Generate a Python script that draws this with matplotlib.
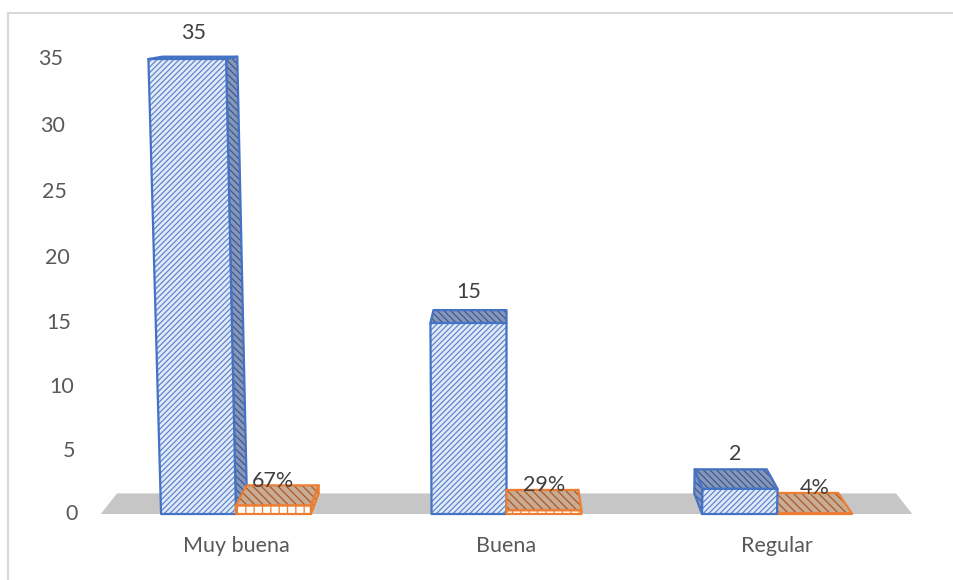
import matplotlib
matplotlib.use('Agg')
import matplotlib.pyplot as plt
from matplotlib.patches import Polygon
from matplotlib.lines import Line2D
import numpy as np

# datos
categorias = ['Muy buena', 'Buena', 'Regular']
frecuencia = [35, 15, 2]
porcentaje = [0.67, 0.29, 0.04]
etiquetas_pct = ['67%', '29%', '4%']
ticks_y = [0, 5, 10, 15, 20, 25, 30, 35]

# colores
AZUL = '#4472c4'
AZUL_CLARO = '#e2eaf7'
AZUL_OSCURO = '#8797b5'
AZUL_RAYA = '#3a5a9c'
AZUL_LINEA = '#5f86cc'
NARANJA = '#ed7d31'
NARANJA_TOP = '#c8ab93'
NARANJA_RAYA = '#a85a28'
PISO = '#c6c6c6'
TEXTO = '#595959'
TEXTO_DATOS = '#404040'

# perspectiva (unidades de categoria / valor)
XC = 1.0        # punto de fuga horizontal
VY = 41.0       # altura del punto de fuga de profundidad
PROF = 0.96     # escala de la cara trasera
TAPER = 0.00101
ANCHO = 0.277

plt.rcParams['font.family'] = ['Lato', 'DejaVu Sans']
plt.rcParams['hatch.linewidth'] = 0.9


def proyectar(x, v, z):
    k = 1.0 / (1.0 - TAPER * v)
    fx = XC + (x - XC) * k
    fy = v * k
    s = 1.0 - (1.0 - PROF) * z
    return XC + (fx - XC) * s, VY + (fy - VY) * s


def cara(ax, pts, fc, hc, hatch, ec, zo):
    xy = [proyectar(*p) for p in pts]
    ax.add_patch(Polygon(xy, closed=True, facecolor=fc, edgecolor=hc, hatch=hatch,
                         lw=0, zorder=zo, clip_on=False))
    ax.add_patch(Polygon(xy, closed=True, fill=False, edgecolor=ec, lw=1.6,
                         zorder=zo, clip_on=False, joinstyle='round'))


def barra(ax, x0, x1, v, frente, lado, zo):
    if x1 < XC:
        cara(ax, [(x1, 0, 0), (x1, v, 0), (x1, v, 1), (x1, 0, 1)], *lado, zo)
    if x0 > XC:
        cara(ax, [(x0, 0, 0), (x0, v, 0), (x0, v, 1), (x0, 0, 1)], *lado, zo)
    cara(ax, [(x0, v, 0), (x1, v, 0), (x1, v, 1), (x0, v, 1)], *lado, zo)
    cara(ax, [(x0, 0, 0), (x1, 0, 0), (x1, v, 0), (x0, v, 0)], *frente, zo)


fig = plt.figure(figsize=(9.54, 5.8), dpi=100)
ax = fig.add_axes([100.75 / 954, 66 / 580, 811.5 / 954, 501.6 / 580])
ax.set_xlim(-0.5, 2.5)
ax.set_ylim(0, 40)
ax.axis('off')

# marco del grafico
fig.add_artist(Line2D([8 / 954, 1], [1 - 13 / 580] * 2, color='#d9d9d9', lw=1.5))
fig.add_artist(Line2D([8 / 954] * 2, [0, 1 - 13 / 580], color='#d9d9d9', lw=1.5))

# piso
n = len(categorias)
izq, der = -0.5, n - 0.5
piso = [proyectar(*p) for p in [(izq, 0, 0), (der, 0, 0), (der, 0, 1), (izq, 0, 1)]]
ax.add_patch(Polygon(piso, closed=True, facecolor=PISO, edgecolor='none', zorder=1, clip_on=False))

frente_azul = (AZUL_CLARO, AZUL_LINEA, '//////', AZUL)
lado_azul = (AZUL_OSCURO, AZUL_RAYA, '\\\\\\\\\\', AZUL)
frente_nar = ('white', NARANJA, '||', NARANJA)
lado_nar = (NARANJA_TOP, NARANJA_RAYA, '\\\\\\\\', NARANJA)

barras = []
for i in range(n):
    barras.append((i - ANCHO, i, frecuencia[i], frente_azul, lado_azul))
    barras.append((i, i + ANCHO, porcentaje[i], frente_nar, lado_nar))
# de lo mas lejano al centro hacia el centro
barras.sort(key=lambda b: -abs((b[0] + b[1]) / 2 - XC))
for zo, b in enumerate(barras):
    barra(ax, *b, zo + 2)

# etiquetas de datos
fs = 15.5
for i in range(n):
    x, y = proyectar(i - ANCHO / 2, frecuencia[i], 0.5)
    ax.annotate(str(frecuencia[i]), (x, y), xytext=(0, 18), textcoords='offset points',
                ha='center', va='center', fontsize=fs, color=TEXTO_DATOS,
                annotation_clip=False, zorder=50)
    x, y = proyectar(i + ANCHO / 2, porcentaje[i], 0)
    ax.annotate(etiquetas_pct[i], (x, y), xytext=(0, 18), textcoords='offset points',
                ha='center', va='center', fontsize=fs, color=TEXTO_DATOS,
                annotation_clip=False, zorder=50)

# eje de valores
for t in ticks_y:
    x, y = proyectar(izq, t, 0)
    ax.annotate(str(t), (x, y), xytext=(-16.5, 0), textcoords='offset points',
                ha='right', va='center', fontsize=fs, color=TEXTO, annotation_clip=False)

# categorias
for i, c in enumerate(categorias):
    ax.annotate(c, (i, 0), xytext=(0, -23), textcoords='offset points',
                ha='center', va='center', fontsize=fs, color=TEXTO, annotation_clip=False)

fig.savefig('out.png', dpi=100)
